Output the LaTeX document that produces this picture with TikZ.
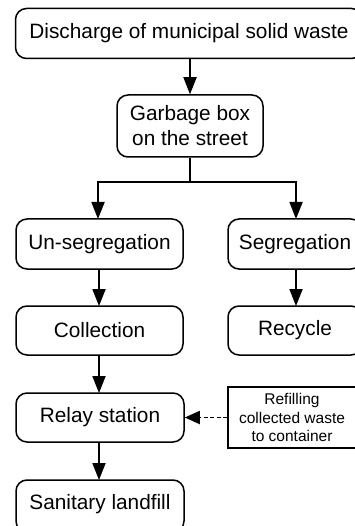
\documentclass[tikz,border=0pt]{standalone}
\usepackage{fontspec}
\setmainfont{Liberation Sans}
\usetikzlibrary{arrows.meta}
\begin{document}
\begin{tikzpicture}[x=1pt,y=-1pt,
  rbox/.style={draw, line width=1.5pt, rounded corners=11pt, inner sep=0pt},
  sbox/.style={draw, line width=1.4pt, inner sep=0pt},
  big/.style={font=\fontsize{20.8}{25}\selectfont, align=center},
  small/.style={font=\fontsize{15.5}{18.5}\selectfont, align=center},
  arr/.style={line width=1.8pt, -{Triangle[length=17pt,width=13pt]}},
  darr/.style={line width=1.8pt, dash pattern=on 4pt off 2.5pt, -{Triangle[length=15pt,width=13pt]}}]
\clip (0,0) rectangle (355,526);
\useasboundingbox (0,0) rectangle (355,526);
% boxes
\node[rbox, minimum width=347pt, minimum height=50pt] (top) at (189,33.5) {};
\node[big] at (189,33.5) {Discharge of municipal solid waste};
\node[rbox, minimum width=146pt, minimum height=62pt] (gb) at (190,126) {};
\node[big] at (190,126) {Garbage box\\on the street};
\node[rbox, minimum width=167pt, minimum height=50pt] (un) at (99.5,244) {};
\node[big] at (99.5,244) {Un-segregation};
\node[rbox, minimum width=134pt, minimum height=50pt] (seg) at (295,244) {};
\node[big] at (295,244) {Segregation};
\node[rbox, minimum width=167pt, minimum height=49pt] (col) at (99.5,330.5) {};
\node[big] at (99.5,330.5) {Collection};
\node[rbox, minimum width=134pt, minimum height=49pt] (rec) at (295,330.5) {};
\node[big] at (295,330.5) {Recycle};
\node[rbox, minimum width=168pt, minimum height=49pt] (rel) at (100,417.5) {};
\node[big] at (100,417.5) {Relay station};
\node[sbox, minimum width=129pt, minimum height=61pt] (ref) at (292.5,417.5) {};
\node[small] at (292,417.5) {Refilling\\collected waste\\to container};
\node[rbox, minimum width=168pt, minimum height=52pt] (san) at (100,506) {};
\node[big] at (100,504) {Sanitary landfill};
% connectors
\coordinate (j) at (190,182);
\draw[arr] (top.south -| gb) -- (gb.north);
\draw[line width=1.8pt] (gb.south) -- (j);
\draw[arr] (j) -| (98,219);
\draw[arr] (j) -| (296,219);
\draw[arr] (99,269) -- (99,306);
\draw[arr] (296,269) -- (296,306);
\draw[arr] (99,355) -- (99,393);
\draw[arr] (99,442) -- (99,480);
\draw[darr] (ref.west) -- (rel.east);
\end{tikzpicture}
\end{document}
